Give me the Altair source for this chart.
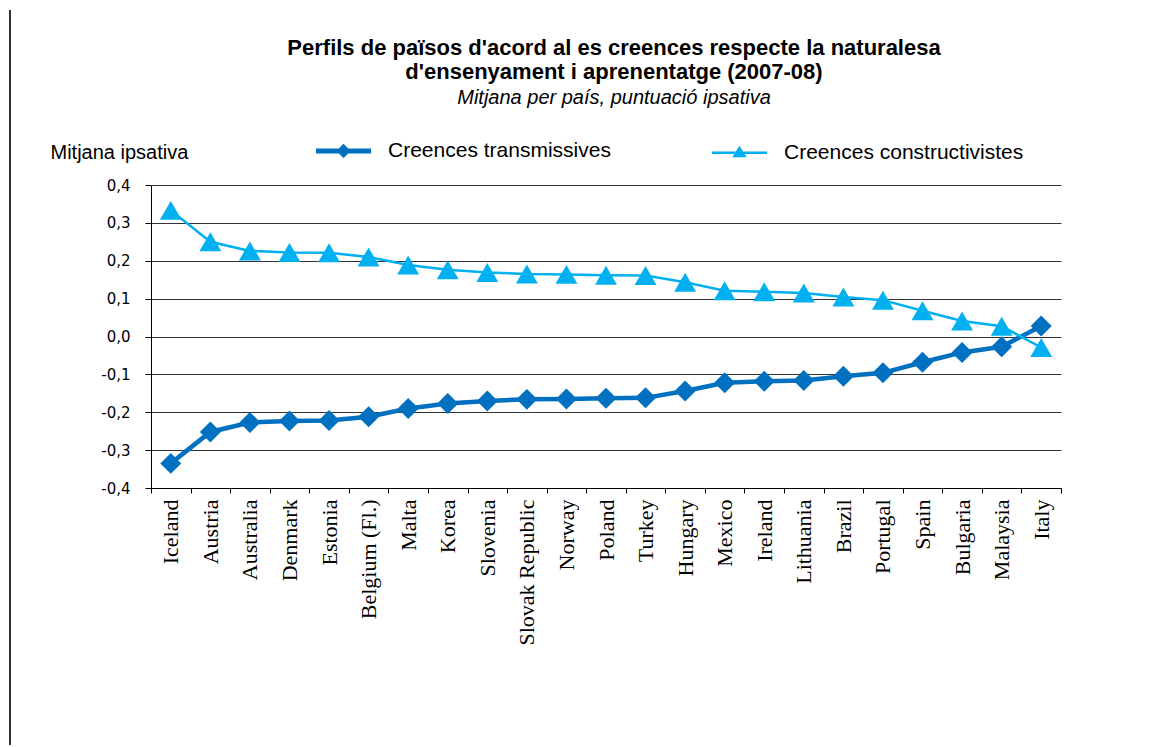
import altair as alt
import pandas as pd

countries = ["Iceland", "Austria", "Australia", "Denmark", "Estonia", "Belgium (Fl.)",
             "Malta", "Korea", "Slovenia", "Slovak Republic", "Norway", "Poland",
             "Turkey", "Hungary", "Mexico", "Ireland", "Lithuania", "Brazil",
             "Portugal", "Spain", "Bulgaria", "Malaysia", "Italy"]
transmissives = [-0.335, -0.252, -0.227, -0.223, -0.222, -0.212, -0.190, -0.177,
                 -0.170, -0.166, -0.165, -0.163, -0.162, -0.144, -0.122, -0.118,
                 -0.116, -0.105, -0.096, -0.068, -0.042, -0.027, 0.028]
constructivistes = [0.333, 0.250, 0.226, 0.222, 0.221, 0.210, 0.189, 0.176,
                    0.169, 0.165, 0.164, 0.162, 0.161, 0.143, 0.121, 0.118,
                    0.115, 0.104, 0.096, 0.068, 0.041, 0.027, -0.029]
series = ["Creences transmissives", "Creences constructivistes"]
colors = ["#0070C0", "#00B0F0"]
y_ticks = [-0.4, -0.3, -0.2, -0.1, 0.0, 0.1, 0.2, 0.3, 0.4]

rows = []
for i, c in enumerate(countries):
    rows.append({"country": c, "serie": series[0], "value": transmissives[i]})
    rows.append({"country": c, "serie": series[1], "value": constructivistes[i]})
df = pd.DataFrame(rows)
df["marker"] = df["serie"]

path_t = "M-1,0H1M0,-0.13L0.13,0L0,0.13L-0.13,0Z"
path_c = "M-1,0H1M0,-0.17L0.18,0.12L-0.18,0.12Z"

x_enc = alt.X("country:N", sort=countries,
              scale=alt.Scale(type="band", paddingInner=0, paddingOuter=0),
              axis=alt.Axis(title=None, labelAngle=-90, labelAlign="right",
                            labelBaseline="middle", labelFont="Liberation Serif",
                            labelFontSize=22, labelColor="black", tickBand="extent",
                            tickSize=5, tickColor="black", domainColor="black",
                            labelPadding=6, grid=False))
y_enc = alt.Y("value:Q", scale=alt.Scale(domain=[-0.4, 0.4], nice=False, zero=False),
              axis=alt.Axis(values=y_ticks, grid=True, gridColor="#333333",
                            gridWidth=1, domainColor="black", tickColor="black",
                            tickSize=6, labelPadding=15,
                            labelExpr="replace(replace(format(datum.value, '.1f'), '.', ','), '\u2212', '-')",
                            labelFont="DejaVu Sans", labelFontSize=15, labelColor="black",
                            title="Mitjana ipsativa", titleAngle=0, titleAlign="left",
                            titleBaseline="middle", titleX=-101, titleY=-33,
                            titleFont="Liberation Sans", titleFontSize=20,
                            titleFontWeight="normal", titleColor="black"))

lines = alt.Chart(df).mark_line().encode(
    x=x_enc, y=y_enc,
    color=alt.Color("serie:N", scale=alt.Scale(domain=series, range=colors), sort=series,
                    legend=alt.Legend(
                        title=None, orient="none", legendX=182, legendY=-45,
                        direction="horizontal", columnPadding=96, padding=0,
                        symbolSize=3025, labelOffset=34,
                        symbolType={"expr": f"datum.value === '{series[0]}' ? '{path_t}' : '{path_c}'"},
                        symbolStrokeWidth={"expr": f"datum.value === '{series[0]}' ? 5 : 2.5"},
                        symbolFillColor={"expr": f"datum.value === '{series[0]}' ? '{colors[0]}' : '{colors[1]}'"},
                        labelFont="Liberation Sans", labelFontSize=21, labelColor="black",
                        labelLimit=400)),
    strokeWidth=alt.StrokeWidth("serie:N", scale=alt.Scale(domain=series, range=[4.5, 2.5]),
                                legend=None),
)

points = alt.Chart(df).mark_point(filled=True, opacity=1, strokeWidth=1).encode(
    x=x_enc, y=y_enc,
    color=alt.Color("marker:N", scale=alt.Scale(domain=series, range=colors), legend=None),
    shape=alt.Shape("marker:N", scale=alt.Scale(domain=series, range=["diamond", "triangle-up"]),
                    legend=None),
    size=alt.Size("marker:N", scale=alt.Scale(domain=series, range=[440, 480]), legend=None),
)

frame = alt.Chart(df).mark_rule(color="#333333", strokeWidth=1.5, clip=False).encode(
    x=alt.value(-141), y=alt.value(-175), y2=alt.value(560)
)

chart = alt.layer(lines, points, frame).resolve_scale(
    color="independent", shape="independent", size="independent"
).resolve_legend(color="independent").properties(
    width=910, height=303,
    autosize=alt.AutoSizeParams(type="none"),
    padding={"left": 143, "top": 177, "right": 60, "bottom": 259},
    title=alt.TitleParams(
        text=["Perfils de països d'acord al es creences respecte la naturalesa",
              "d'ensenyament i aprenentatge (2007-08)"],
        subtitle="Mitjana per país, puntuació ipsativa",
        anchor="middle", font="Liberation Sans", fontSize=22, fontWeight="bold",
        color="black", lineHeight=24, subtitleFont="Liberation Sans",
        subtitleFontSize=20, subtitleFontStyle="italic", subtitleColor="black",
        subtitlePadding=4, offset=0, dy=100, dx=8),
).configure_view(stroke=None)

chart.save("out.html", embed_options={"renderer": "svg", "actions": False})
